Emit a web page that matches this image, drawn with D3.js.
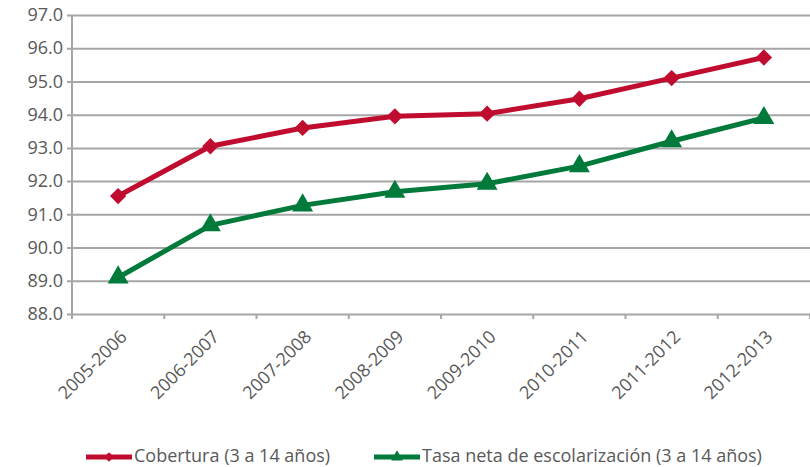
<!DOCTYPE html>
<html>
<head>
<meta charset="utf-8">
<script src="https://cdn.jsdelivr.net/npm/d3@7"></script>
<style>
  body { margin: 0; background: #fff; }
  text { font-family: "Open Sans", sans-serif; fill: #595959; }
</style>
</head>
<body>
<div id="chart"></div>
<script>
var categories = ["2005-2006","2006-2007","2007-2008","2008-2009","2009-2010","2010-2011","2011-2012","2012-2013"];
var cobertura = [91.55, 93.05, 93.6, 93.95, 94.03, 94.48, 95.1, 95.72];
var tasaNeta = [89.1, 90.67, 91.27, 91.68, 91.92, 92.45, 93.2, 93.9];
var yTicks = [88, 89, 90, 91, 92, 93, 94, 95, 96, 97];
var seriesNames = ["Cobertura (3 a 14 años)", "Tasa neta de escolarización (3 a 14 años)"];

var width = 810, height = 467;
var margin = {top: 15, right: 0, bottom: 153, left: 72};

var svg = d3.select("#chart").append("svg")
    .attr("width", width)
    .attr("height", height);

var x = d3.scaleBand()
    .domain(categories)
    .range([margin.left, width - margin.right]);

var y = d3.scaleLinear()
    .domain([88, 97])
    .range([height - margin.bottom, margin.top]);

// horizontal gridlines + y labels
var yAxis = svg.append("g")
    .attr("transform", "translate(" + margin.left + ",0)")
    .call(d3.axisLeft(y).tickValues(yTicks).tickFormat(d3.format(".1f"))
        .tickSize(-(width - margin.left - margin.right)).tickPadding(9));
yAxis.select(".domain").remove();
yAxis.selectAll(".tick line").attr("stroke", "#a6a6a6").attr("stroke-width", 2).attr("x1", -5);
yAxis.selectAll(".tick text").attr("font-size", "18px").attr("fill", "#595959");

// vertical axis line
svg.append("line")
    .attr("x1", margin.left).attr("x2", margin.left)
    .attr("y1", y(97)).attr("y2", y(88) + 5)
    .attr("stroke", "#a6a6a6").attr("stroke-width", 2);

// category ticks at band boundaries
var bounds = categories.map(function(c){ return x(c); }).concat([x.range()[1]]);
svg.selectAll(".xtick")
    .data(bounds)
    .enter()
    .append("line")
    .attr("x1", function(d){ return d; })
    .attr("x2", function(d){ return d; })
    .attr("y1", y(88)).attr("y2", y(88) + 5)
    .attr("stroke", "#a6a6a6").attr("stroke-width", 2);

// rotated category labels
svg.selectAll(".xlabel")
    .data(categories)
    .enter()
    .append("text")
    .attr("text-anchor", "end")
    .attr("font-size", "18px")
    .attr("transform", function(d){
        return "translate(" + (x(d) + x.bandwidth() / 2 + 10) + "," + (y(88) + 24) + ") rotate(-45)";
    })
    .text(function(d){ return d; });

var line = d3.line()
    .x(function(d, i){ return x(categories[i]) + x.bandwidth() / 2; })
    .y(function(d){ return y(d); });

var red = "#c00d2f", green = "#007a3b";

function drawSeries(values, color, symbolType, size) {
    svg.append("path")
        .datum(values)
        .attr("fill", "none")
        .attr("stroke", color)
        .attr("stroke-width", 5)
        .attr("d", line);
    svg.selectAll(null)
        .data(values)
        .enter()
        .append("path")
        .attr("d", d3.symbol().type(symbolType).size(size))
        .attr("fill", color)
        .attr("transform", function(d, i){
            return "translate(" + (x(categories[i]) + x.bandwidth() / 2) + "," + y(d) + ")";
        });
}

drawSeries(cobertura, red, d3.symbolDiamond2, 170);
drawSeries(tasaNeta, green, d3.symbolTriangle, 190);

// legend
var legend = [
    {name: seriesNames[0], color: red, sym: d3.symbolDiamond2, x0: 86},
    {name: seriesNames[1], color: green, sym: d3.symbolTriangle, x0: 374}
];
var ly = 457;
legend.forEach(function(l){
    svg.append("line")
        .attr("x1", l.x0).attr("x2", l.x0 + 46)
        .attr("y1", ly).attr("y2", ly)
        .attr("stroke", l.color).attr("stroke-width", 5);
    svg.append("path")
        .attr("d", d3.symbol().type(l.sym).size(60))
        .attr("fill", l.color)
        .attr("transform", "translate(" + (l.x0 + 23) + "," + ly + ")");
    svg.append("text")
        .attr("x", l.x0 + 48)
        .attr("y", ly + 5)
        .attr("font-size", "18px")
        .text(l.name);
});
</script>
</body>
</html>
